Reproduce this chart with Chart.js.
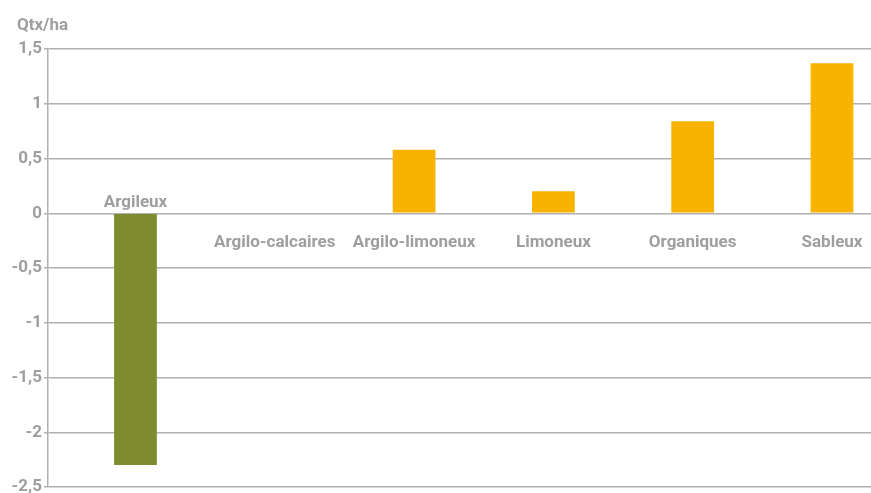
<!DOCTYPE html>
<html>
<head>
<meta charset="utf-8">
<script src="https://cdn.jsdelivr.net/npm/chart.js@4"></script>
<style>
  html, body { margin: 0; padding: 0; background: #fff; overflow: hidden; }
  #wrap { position: absolute; left: 0; top: 0; width: 871px; height: 500px; }
</style>
</head>
<body>
<div id="wrap"><canvas id="c"></canvas></div>
<script>
// ---- data ----
const categories = ["Argileux", "Argilo-calcaires", "Argilo-limoneux", "Limoneux", "Organiques", "Sableux"];
const values = [-2.3, 0, 0.58, 0.2, 0.84, 1.37];
const yTicks = [1.5, 1, 0.5, 0, -0.5, -1, -1.5, -2, -2.5];
const unitLabel = "Qtx/ha";

// ---- style ----
const GREEN = "#7E8B2F";
const ORANGE = "#F8B200";
const TEXT = "#9e9e9e";
const GRID = "#b0b0b0";
const FONT = "Roboto, 'Liberation Sans', sans-serif";

const labelPlugin = {
  id: "labels",
  afterDraw(chart) {
    const ctx = chart.ctx;
    const xs = chart.scales.x, ys = chart.scales.y;
    const zero = ys.getPixelForValue(0);
    ctx.save();
    ctx.fillStyle = TEXT;
    ctx.font = "700 17px " + FONT;
    ctx.textAlign = "center";
    ctx.textBaseline = "alphabetic";
    categories.forEach((c, i) => {
      const x = xs.getPixelForValue(i);
      const y = values[i] < 0 ? zero - 6 : zero + 34;
      ctx.fillText(c, x, y);
    });
    ctx.textAlign = "left";
    ctx.fillText(unitLabel, 17, 30);
    ctx.restore();
  }
};

new Chart(document.getElementById("c"), {
  type: "bar",
  data: {
    datasets: [{
      data: values.map((v, i) => ({ x: i, y: v })),
      backgroundColor: values.map(v => v < 0 ? GREEN : ORANGE),
      borderWidth: 0,
      categoryPercentage: 1,
      barPercentage: 0.307
    }]
  },
  options: {
    responsive: true,
    maintainAspectRatio: false,
    animation: false,
    layout: { padding: { top: 49, bottom: 13, left: 0, right: 0 } },
    plugins: { legend: { display: false }, tooltip: { enabled: false }, title: { display: false } },
    scales: {
      x: {
        type: "linear", display: false, offset: false, min: -0.628, max: 5.28,
        afterBuildTicks(scale) { scale.ticks = categories.map((c, i) => ({ value: i })); }
      },
      y: {
        min: yTicks[yTicks.length - 1],
        max: yTicks[0],
        afterBuildTicks(scale) { scale.ticks = yTicks.map(v => ({ value: v })); },
        afterFit(scale) { scale.width = 48; },
        ticks: {
          color: TEXT,
          font: { family: FONT, size: 17, weight: "700" },
          padding: 2,
          callback: v => String(v).replace(".", ",")
        },
        grid: { color: GRID, lineWidth: 1.5, tickLength: 4, drawTicks: true },
        border: { display: true, color: GRID, width: 1.5 }
      }
    }
  },
  plugins: [labelPlugin]
});
</script>
</body>
</html>
